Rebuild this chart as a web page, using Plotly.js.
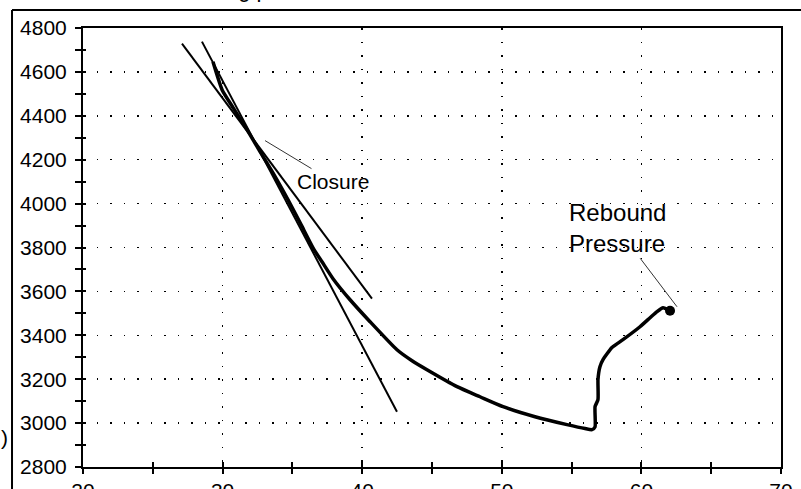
<!DOCTYPE html>
<html><head><meta charset="utf-8">
<script src="https://cdn.plot.ly/plotly-3.0.1.min.js"></script>
<style>html,body{margin:0;padding:0;background:#fff}#chart{width:801px;height:489px}</style>
</head><body><div id="chart"></div>
<script>
// Measured pressure curve
const curveX = [29.31, 29.96, 30.75, 31.75, 32.68, 33.68, 34.68, 35.62, 36.55, 37.12, 37.91, 39.13, 40.56, 42.49, 43.57, 44.64, 46.79, 48.44, 50.09, 52.38, 54.67, 55.96, 56.46, 56.68, 56.68, 56.89, 56.89, 57.03, 57.25, 57.89, 58.68, 59.90, 60.62, 61.12, 61.55, 62.05];
const curveY = [4646, 4519, 4437, 4337, 4237, 4132, 4018, 3904, 3790, 3735, 3658, 3562, 3462, 3334, 3284, 3243, 3166, 3120, 3075, 3029, 2993, 2975, 2970, 2983, 3075, 3107, 3198, 3257, 3289, 3344, 3380, 3439, 3480, 3508, 3526, 3512];
// Tangent lines
const steepX = [28.52, 42.49];
const steepY = [4738, 3052];
const shallowX = [27.09, 40.70];
const shallowY = [4729, 3567];
// Ticks
const xTickVals = [20, 30, 40, 50, 60, 70];
const yTickVals = [2800, 3000, 3200, 3400, 3600, 3800, 4000, 4200, 4400, 4600, 4800];
// Annotation anchor points
const closurePt = [33.04, 4287];
const reboundPt = [62.55, 3530];
const titleText = 'Closing pressure decline, ISIP';

const F = 'Liberation Sans, Arial, sans-serif';
const traces = [
  {x: steepX, y: steepY, mode: 'lines', line: {color: '#000', width: 2}, hoverinfo: 'skip'},
  {x: shallowX, y: shallowY, mode: 'lines', line: {color: '#000', width: 2}, hoverinfo: 'skip'},
  {x: curveX, y: curveY, mode: 'lines', line: {color: '#000', width: 3.5, shape: 'spline', smoothing: 0.5}, hoverinfo: 'skip'},
  {x: [curveX[curveX.length - 1]], y: [curveY[curveY.length - 1]], mode: 'markers', marker: {color: '#000', size: 10}, hoverinfo: 'skip'},
  // overlay axes for crossing ticks
  {x: [xTickVals[0]], y: [yTickVals[0]], xaxis: 'x2', yaxis: 'y2', mode: 'markers', marker: {opacity: 0}, hoverinfo: 'skip'}
];

const xRange = [xTickVals[0], xTickVals[xTickVals.length - 1]];
const yRange = [yTickVals[0], yTickVals[yTickVals.length - 1]];

const layout = {
  width: 801, height: 489,
  margin: {l: 83, r: 20, t: 28, b: 22},
  paper_bgcolor: '#fff', plot_bgcolor: '#fff',
  showlegend: false,
  font: {family: F, color: '#000', size: 21},
  xaxis: {
    range: xRange, tickvals: xTickVals, ticks: 'outside', ticklen: 5, tickwidth: 2, tickcolor: '#000',
    minor: {dtick: 5, ticks: 'outside', ticklen: 5, tickwidth: 2, tickcolor: '#000', showgrid: false},
    showline: true, linecolor: '#000', linewidth: 2, mirror: true,
    showgrid: true, gridcolor: '#000', gridwidth: 1.5, griddash: '1.5px,12px',
    zeroline: false, tickfont: {family: F, size: 21, color: '#000'}, ticklabelstandoff: -1
  },
  yaxis: {
    range: yRange, tickvals: yTickVals, ticks: 'outside', ticklen: 6, tickwidth: 2, tickcolor: '#000',
    minor: {dtick: 100, ticks: 'outside', ticklen: 6, tickwidth: 2, tickcolor: '#000', showgrid: false},
    showline: true, linecolor: '#000', linewidth: 2, mirror: true,
    showgrid: true, gridcolor: '#000', gridwidth: 1.5, griddash: '1.5px,12px',
    zeroline: false, tickfont: {family: F, size: 21, color: '#000'}, ticklabelstandoff: 4
  },
  xaxis2: {
    overlaying: 'x', anchor: 'y', side: 'bottom', range: xRange, tickvals: xTickVals,
    ticks: 'inside', ticklen: 5, tickwidth: 2, tickcolor: '#000',
    minor: {dtick: 5, ticks: 'inside', ticklen: 5, tickwidth: 2, tickcolor: '#000'},
    showticklabels: false, showgrid: false, showline: false, zeroline: false
  },
  yaxis2: {
    overlaying: 'y', anchor: 'x', side: 'left', range: yRange, tickvals: yTickVals,
    ticks: 'inside', ticklen: 3, tickwidth: 2, tickcolor: '#000',
    minor: {dtick: 100, ticks: 'inside', ticklen: 3, tickwidth: 2, tickcolor: '#000'},
    showticklabels: false, showgrid: false, showline: false, zeroline: false
  },
  shapes: [
    {type: 'line', xref: 'paper', yref: 'paper', x0: -0.1017, x1: -0.1017, y0: -0.2, y1: 1.041, line: {color: '#000', width: 2}},
    {type: 'line', xref: 'paper', yref: 'paper', x0: -0.1017, x1: 1.1, y0: 1.041, y1: 1.041, line: {color: '#000', width: 2}}
  ],
  annotations: [
    {x: 175 / 801 * 801 / 698 - 83 / 698, y: (467 - 4) / 439, xref: 'paper', yref: 'paper', text: titleText,
     showarrow: false, xanchor: 'left', yanchor: 'bottom', font: {family: F, size: 22, color: '#000'}},
    {x: closurePt[0], y: closurePt[1], xref: 'x', yref: 'y', text: 'Closure', showarrow: true,
     arrowhead: 0, arrowwidth: 1, arrowcolor: '#333', ax: 68, ay: 41,
     font: {family: F, size: 21, color: '#000'}},
    {x: reboundPt[0], y: reboundPt[1], xref: 'x', yref: 'y', text: 'Rebound<br>Pressure', align: 'left', showarrow: true,
     arrowhead: 0, arrowwidth: 1, arrowcolor: '#333', ax: -60, ay: -79,
     font: {family: F, size: 24, color: '#000'}},
    {x: -0.113, y: 0.036, xref: 'paper', yref: 'paper', text: ')', showarrow: false,
     xanchor: 'center', font: {family: F, size: 21, color: '#000'}}
  ]
};

Plotly.newPlot('chart', traces, layout, {staticPlot: true, displayModeBar: false});
</script>
</body></html>
